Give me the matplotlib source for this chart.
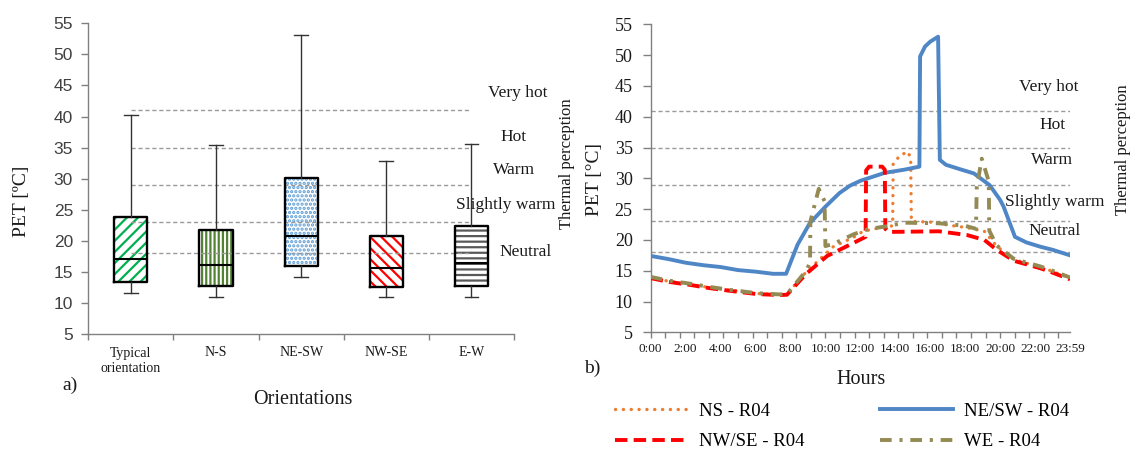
import numpy as np
import matplotlib.pyplot as plt

plt.rcParams['font.family'] = ['Liberation Serif', 'DejaVu Serif']
plt.rcParams['hatch.linewidth'] = 1.6

W, H = 1134, 453          # output size in pixels


def fx(x):
    return x / W


def fy(y):
    return 1 - y / H


# -----------------------------
# a) box plot per orientation
# -----------------------------
orientations = ['Typical\norientation', 'N-S', 'NE-SW', 'NW-SE', 'E-W']
pet_min = [11.6, 10.9, 14.1, 10.9, 10.9]
pet_q1 = [13.3, 12.7, 16.0, 12.6, 12.7]
pet_med = [17.0, 16.1, 20.7, 15.7, 16.4]
pet_q3 = [23.9, 21.7, 30.1, 20.8, 22.4]
pet_max = [40.2, 35.4, 53.1, 32.9, 35.6]
box_colors = ['#00B050', '#548235', '#5B9BD5', '#FF0000', '#595959']
box_hatches = ['///', '||||', '....', '\\\\\\', '---']

# thermal perception classes (PET thresholds)
thresholds = [41, 35, 29, 23, 18]
perception = ['Very hot', 'Hot', 'Warm', 'Slightly warm', 'Neutral']

# -----------------------------
# b) daily course of PET (hours, PET)
# -----------------------------
ns_hours = [0, 1, 2.25, 3.3, 4.5, 6.1, 7.4, 7.8, 8.9, 10.45, 11.6, 12.1, 12.6,
            13.85, 13.88, 14.3, 14.75, 14.88, 14.92, 16.0, 17.3, 18.1, 19.1,
            19.8, 20.8, 22.3, 22.9, 24.0]
ns_pet = [13.9, 13.3, 12.8, 12.3, 11.85, 11.3, 11.1, 11.2, 14.8, 18.9, 20.4, 21.3, 21.7,
          22.3, 32.4, 33.8, 34.3, 33.0, 23.0, 22.9, 22.3, 22.0, 21.4,
          19.0, 16.8, 15.6, 15.0, 13.8]

nesw_hours = [0, 1, 2, 3, 4, 5, 6, 7, 7.75, 8.4, 9.1, 10.0, 10.8, 11.4, 12.0,
              13.4, 14.5, 15.38, 15.42, 15.7, 16.0, 16.45, 16.55, 16.9, 17.8,
              18.5, 19.4, 20.0, 20.2, 20.85, 21.5, 22.3, 23.0, 24.0]
nesw_pet = [17.4, 16.9, 16.3, 15.9, 15.6, 15.1, 14.85, 14.5, 14.5, 19.2, 22.7, 25.4, 27.6, 28.8, 29.6,
            30.9, 31.4, 31.9, 49.8, 51.4, 52.2, 53.0, 33.0, 32.2, 31.4,
            30.8, 28.9, 26.5, 25.4, 20.5, 19.6, 18.9, 18.4, 17.5]

nwse_hours = [0, 1, 2.25, 3.3, 4.5, 6.1, 7.4, 7.8, 8.9, 10.1, 11.6, 12.3, 12.33,
              12.5, 13.25, 13.4, 13.43, 13.6, 16.5, 18.1, 19.1, 19.8, 20.8,
              22.3, 22.9, 24.0]
nwse_pet = [13.8, 13.2, 12.7, 12.2, 11.75, 11.2, 11.05, 11.1, 14.5, 17.4, 19.5, 20.5, 31.3,
            31.9, 31.9, 31.4, 21.8, 21.3, 21.4, 20.8, 20.0, 18.4, 16.6,
            15.4, 14.8, 13.6]

we_hours = [0, 1, 2.25, 3.3, 4.5, 6.1, 7.4, 7.8, 8.9, 9.12, 9.14, 9.62, 9.95,
            10.0, 10.5, 11.6, 12.5, 13.5, 14.5, 16.5, 18.0, 18.62, 18.66,
            18.95, 19.35, 19.38, 19.8, 20.8, 22.3, 22.9, 24.0]
we_pet = [14.0, 13.4, 12.9, 12.4, 11.9, 11.35, 11.15, 11.2, 15.0, 16.3, 23.0, 28.3, 26.3,
          19.0, 19.4, 20.9, 21.8, 22.2, 22.8, 22.7, 22.3, 21.8, 28.5,
          33.2, 29.5, 21.5, 19.1, 16.9, 15.7, 15.1, 13.9]

hour_ticks = [0, 2, 4, 6, 8, 10, 12, 14, 16, 18, 20, 22, 24]
hour_labels = ['0:00', '2:00', '4:00', '6:00', '8:00', '10:00', '12:00',
               '14:00', '16:00', '18:00', '20:00', '22:00', '23:59']

AXIS_GREY = '#808080'
TXT = '#1a1a1a'

fig = plt.figure(figsize=(W / 100, H / 100), dpi=100)
ax1 = fig.add_axes([fx(88.3), fy(334), fx(514 - 88.3), (334 - 23.3) / H])
ax2 = fig.add_axes([fx(650.7), fy(332.3), fx(1070 - 650.7), (332.3 - 24.4) / H])

for ax in (ax1, ax2):
    for s in ('top', 'right'):
        ax.spines[s].set_visible(False)
    for s in ('left', 'bottom'):
        ax.spines[s].set_color(AXIS_GREY)
        ax.spines[s].set_linewidth(1.0)
    ax.set_ylim(5, 55)
    ax.set_yticks(np.arange(5, 56, 5))
    ax.tick_params(which='major', direction='out', color=AXIS_GREY, width=1)
    ax.xaxis.remove_overlapping_locs = False

# ---- panel a ----
pos = np.arange(1, len(orientations) + 1)
stats = []
for i in range(len(orientations)):
    stats.append(dict(whislo=pet_min[i], q1=pet_q1[i], med=pet_med[i],
                      q3=pet_q3[i], whishi=pet_max[i], fliers=[]))

# hatched fill first
bp = ax1.bxp(stats, positions=pos, widths=0.39, patch_artist=True,
             showfliers=False, showcaps=False,
             whiskerprops=dict(linestyle='none'),
             medianprops=dict(linestyle='none'), zorder=1)
for patch, c, h in zip(bp['boxes'], box_colors, box_hatches):
    patch.set_facecolor('white')
    patch.set_edgecolor(c)
    patch.set_hatch(h)
    patch.set_linewidth(0)

ax1.hlines(thresholds, pos[0], pos[-1], colors='#9A9A9A', linewidth=1,
           linestyles=(0, (3, 2)), zorder=2)

# outlines, whiskers, medians on top
ax1.bxp(stats, positions=pos, widths=0.39, showfliers=False, capwidths=0.16,
        boxprops=dict(color='black', linewidth=1.7),
        medianprops=dict(color='black', linewidth=1.5),
        whiskerprops=dict(color='#333333', linewidth=1),
        capprops=dict(color='#333333', linewidth=1), zorder=3)

ax1.set_xlim(0.5, len(orientations) + 0.5)
ax1.set_xticks(np.arange(0.5, len(orientations) + 1, 1))
ax1.set_xticklabels([])
ax1.set_xticks(pos, minor=True)
ax1.set_xticklabels(orientations, minor=True, fontsize=10, color=TXT, linespacing=1.25)
ax1.tick_params(axis='x', which='minor', length=0, pad=9)
ax1.tick_params(axis='x', which='major', length=4)
ax1.tick_params(axis='y', which='major', length=5, pad=6, labelsize=12.5,
                labelcolor='#404040')
for t in ax1.get_yticklabels():
    t.set_fontfamily(['Liberation Sans', 'DejaVu Sans'])

# ---- panel b ----
ax2.hlines(thresholds, 0, 24, colors='#9A9A9A', linewidth=1,
           linestyles=(0, (3, 2)), zorder=1)
l_ns, = ax2.plot(ns_hours, ns_pet, color='#ED7D31', lw=2.4,
                 linestyle=(0, (0.05, 2.3)), dash_capstyle='round', label='NS - R04', zorder=2)
l_nesw, = ax2.plot(nesw_hours, nesw_pet, color='#4F86C6', lw=2.8,
                   solid_joinstyle='round', label='NE/SW - R04', zorder=3)
l_nwse, = ax2.plot(nwse_hours, nwse_pet, color='#FF0000', lw=2.8,
                   linestyle=(0, (3.2, 1.6)), label='NW/SE - R04', zorder=4)
l_we, = ax2.plot(we_hours, we_pet, color='#948A54', lw=2.8,
                 linestyle=(0, (3, 2, 0.8, 2)), label='WE - R04', zorder=5)

ax2.set_xlim(0, 24)
ax2.set_xticks(np.arange(0, 24, 5 / 6))
ax2.set_xticklabels([])
ax2.set_xticks(hour_ticks, minor=True)
ax2.set_xticklabels(hour_labels, minor=True, fontsize=9.5, color=TXT)
ax2.tick_params(axis='x', which='minor', length=0, pad=8)
ax2.tick_params(axis='x', which='major', length=4)
ax2.tick_params(axis='y', which='major', length=6, pad=7, labelsize=13,
                labelcolor=TXT)

# ---- texts ----
kw = dict(ha='center', va='center', color=TXT)
for name, x, y in zip(perception, [517.7, 513.3, 514, 506, 526],
                      [92.7, 136.7, 170, 205, 252.3]):
    fig.text(fx(x), fy(y), name, fontsize=12.5, **kw)
for name, x, y in zip(perception, [1048.3, 1053, 1052, 1055, 1055],
                      [86.7, 125, 160, 201.7, 230.7]):
    fig.text(fx(x), fy(y), name, fontsize=12.5, **kw)
fig.text(fx(566.7), fy(163.3), 'Thermal perception', rotation=90, fontsize=12, **kw)
fig.text(fx(1123.3), fy(150), 'Thermal perception', rotation=90, fontsize=12, **kw)

fig.text(fx(21.7), fy(201.7), 'PET [ºC]', rotation=90, fontsize=14, **kw)
fig.text(fx(594), fy(180), 'PET [°C]', rotation=90, fontsize=14, **kw)
fig.text(fx(303), fy(399.3), 'Orientations', fontsize=14.5, **kw)
fig.text(fx(861), fy(380), 'Hours', fontsize=14.5, **kw)
fig.text(fx(70), fy(385), 'a)', fontsize=14, **kw)
fig.text(fx(592), fy(368.3), 'b)', fontsize=14, **kw)

fig.legend(handles=[l_ns, l_nwse, l_nesw, l_we], ncol=2, frameon=False,
           loc='center', bbox_to_anchor=(fx(842), fy(426.5)),
           fontsize=13.5, handlelength=3.9, handletextpad=0.6,
           columnspacing=4.0, labelspacing=0.7, borderpad=0.2)

fig.savefig('out.png', dpi=100)
